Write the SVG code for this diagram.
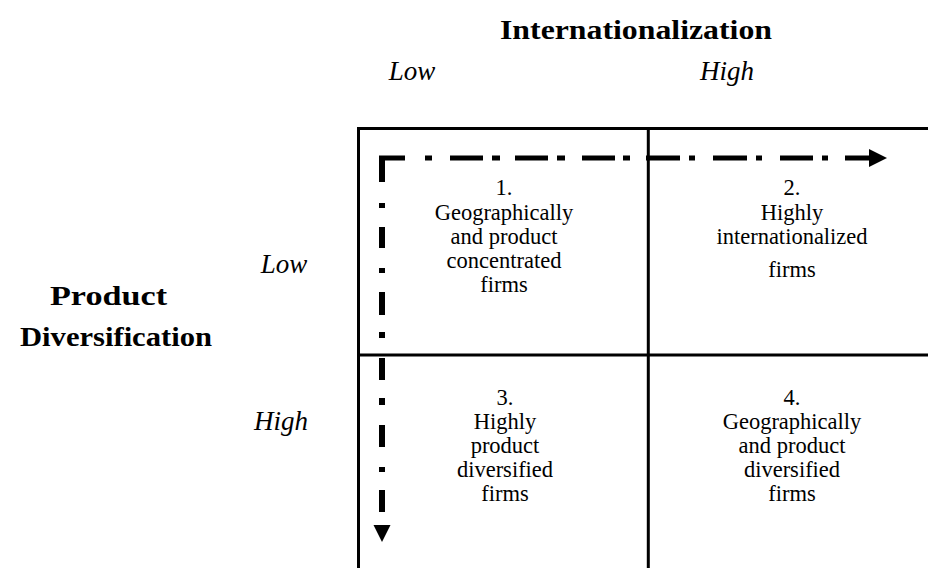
<svg xmlns="http://www.w3.org/2000/svg" width="928" height="568" viewBox="0 0 928 568">
  <style>
    .axis { font-family: "Liberation Serif", "Times New Roman", serif; font-weight: bold; font-size: 28px; fill: #000; }
    .level { font-family: "Liberation Serif", "Times New Roman", serif; font-style: italic; font-size: 27px; fill: #000; }
    .cell { font-family: "Liberation Serif", "Times New Roman", serif; font-size: 22.5px; fill: #000; text-anchor: middle; }
    .grid { fill: none; stroke: #000; stroke-width: 3; }
    .path { fill: none; stroke: #000; }
  </style>
  <rect width="928" height="568" fill="#fff"/>

  <!-- axis titles -->
  <g id="axis-internationalization">
    <text class="axis" x="500" y="39" textLength="272" lengthAdjust="spacingAndGlyphs">Internationalization</text>
    <text class="level" x="412" y="80" text-anchor="middle">Low</text>
    <text class="level" x="727" y="80" text-anchor="middle">High</text>
  </g>
  <g id="axis-diversification">
    <text class="axis" x="50" y="305" textLength="117" lengthAdjust="spacingAndGlyphs">Product</text>
    <text class="axis" x="20" y="346" textLength="192" lengthAdjust="spacingAndGlyphs">Diversification</text>
    <text class="level" x="284" y="273" text-anchor="middle">Low</text>
    <text class="level" x="281" y="430" text-anchor="middle">High</text>
  </g>

  <!-- 2x2 matrix frame -->
  <g id="matrix">
    <path class="grid" d="M357 128.5 H930 M358.5 127 V570 M648.3 127 V570 M357 355 H930"/>
  </g>

  <g id="cell-1">
    <text class="cell" x="504" y="195">1.</text>
    <text class="cell" x="504" y="220">Geographically</text>
    <text class="cell" x="504" y="244">and product</text>
    <text class="cell" x="504" y="268">concentrated</text>
    <text class="cell" x="504" y="292">firms</text>
  </g>
  <g id="cell-2">
    <text class="cell" x="792" y="195">2.</text>
    <text class="cell" x="792" y="220">Highly</text>
    <text class="cell" x="792" y="244">internationalized</text>
    <text class="cell" x="792" y="277">firms</text>
  </g>
  <g id="cell-3">
    <text class="cell" x="505" y="405">3.</text>
    <text class="cell" x="505" y="429">Highly</text>
    <text class="cell" x="505" y="453">product</text>
    <text class="cell" x="505" y="477">diversified</text>
    <text class="cell" x="505" y="501">firms</text>
  </g>
  <g id="cell-4">
    <text class="cell" x="792" y="405">4.</text>
    <text class="cell" x="792" y="429">Geographically</text>
    <text class="cell" x="792" y="453">and product</text>
    <text class="cell" x="792" y="477">diversified</text>
    <text class="cell" x="792" y="501">firms</text>
  </g>

  <!-- dash-dot expansion paths -->
  <g id="connectors">
    <path class="path" stroke-width="5" d="M379 158 H405 M425 158 H432 M450 158 H483 M492 158 H500 M515 158 H548 M557 158 H565 M582 158 H615 M623 158 H630 M646 158 H680 M689 158 H695 M713 158 H747 M756 158 H762 M780 158 H813 M822 158 H828 M845 158 H871"/>
    <polygon points="869,149 887,158 869,167" fill="#000"/>
    <path class="path" stroke-width="6" d="M382 156 V182 M382 203 V208 M382 227 V248 M382 268 V273 M382 292 V315 M382 332 V338 M382 358 V380 M382 398 V405 M382 425 V447 M382 467 V472 M382 490 V512"/>
    <polygon points="373.5,525 390.5,525 382,542" fill="#000"/>
  </g>
</svg>
